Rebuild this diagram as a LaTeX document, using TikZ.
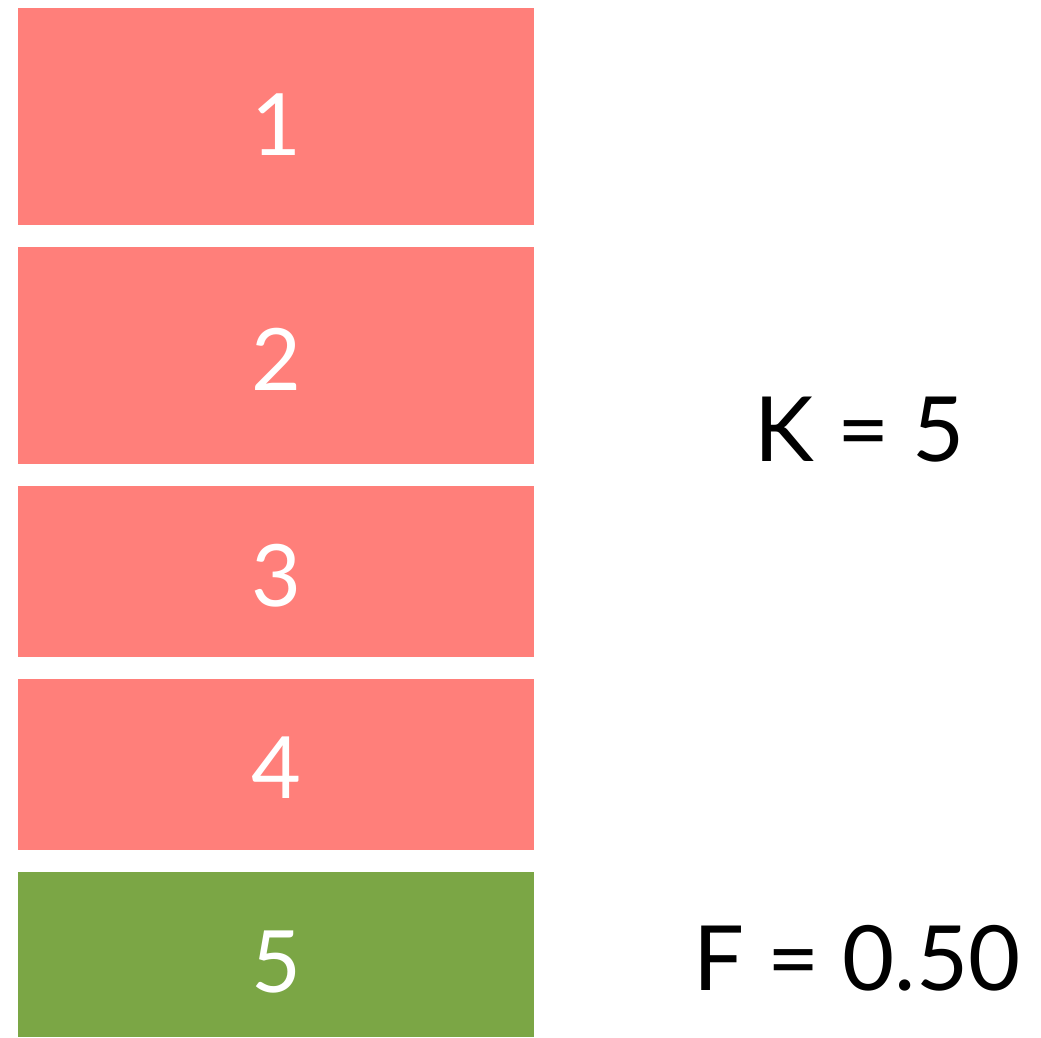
\documentclass[tikz,border=0pt]{standalone}
\usepackage{fontspec}
\setmainfont{Lato}
\definecolor{boxred}{HTML}{FF7F7A}
\definecolor{boxgreen}{HTML}{7BA645}
\begin{document}
\begin{tikzpicture}[x=1pt,y=-1pt,
  cell/.style={draw=none,inner sep=0pt,minimum width=516pt,anchor=north west},
  digit/.style={text=white,font=\fontsize{86}{90}\selectfont,anchor=base,inner sep=0pt},
  info/.style={text=black,font=\fontsize{90}{94}\selectfont,anchor=base,inner sep=0pt}]
\useasboundingbox (0,0) rectangle (1041,1037);
\node[cell,fill=boxred,minimum height=217pt] (b1) at (18,8) {};
\node[cell,fill=boxred,minimum height=217pt] (b2) at (18,247) {};
\node[cell,fill=boxred,minimum height=171pt] (b3) at (18,486) {};
\node[cell,fill=boxred,minimum height=171pt] (b4) at (18,679) {};
\node[cell,fill=boxgreen,minimum height=165pt] (b5) at (18,872) {};
\node[digit] (t1) at (276,155) {1};
\node[digit] (t2) at (276,390) {2};
\node[digit] (t3) at (276,606) {3};
\node[digit] (t4) at (276,798) {4};
\node[digit] (t5) at (276,992) {5};
\node[info] (k) at (860,461) {K = 5};
\node[info] (f) at (857,990) {F = 0.50};
\end{tikzpicture}
\end{document}
